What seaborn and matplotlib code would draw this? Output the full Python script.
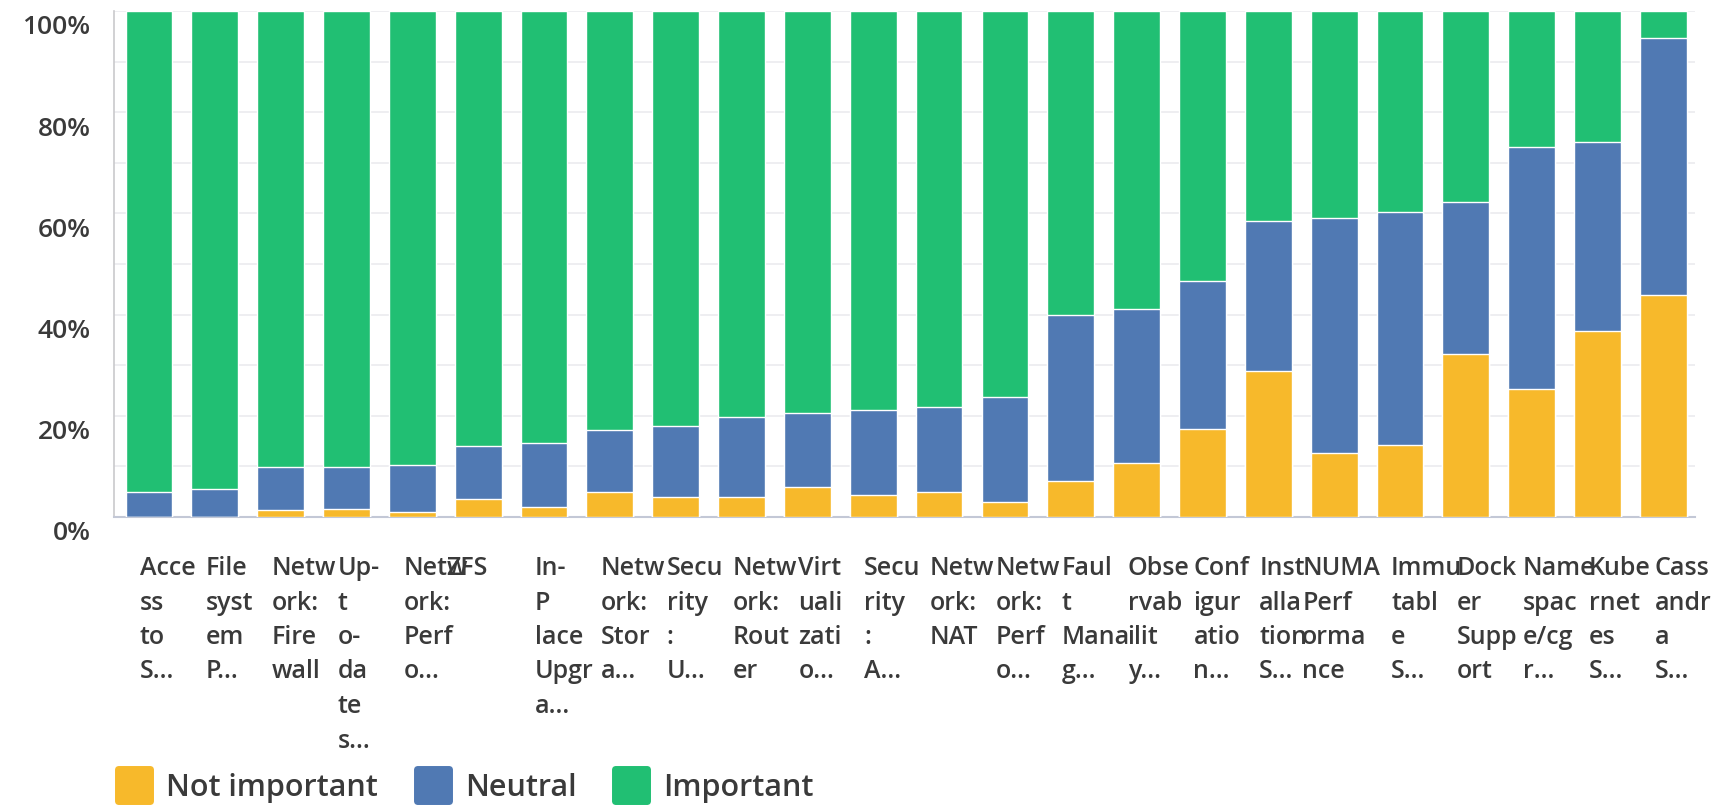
import numpy as np
import pandas as pd
import matplotlib
matplotlib.use('Agg')
import matplotlib.pyplot as plt
import matplotlib.transforms as mtransforms
from matplotlib.lines import Line2D
from matplotlib.markers import MarkerStyle
import seaborn as sns

# ---------- data (percent of respondents) ----------
labels = [
    "Acce\nss\nto\nS...", "File\nsyst\nem\nP...", "Netw\nork:\nFire\nwall",
    "Up-\nt\no-\nda\nte\ns...", "Netw\nork:\nPerf\no...", "ZFS",
    "In-\nP\nlace\nUpgr\na...", "Netw\nork:\nStor\na...", "Secu\nrity\n:\nU...",
    "Netw\nork:\nRout\ner", "Virt\nuali\nzati\no...", "Secu\nrity\n:\nA...",
    "Netw\nork:\nNAT", "Netw\nork:\nPerf\no...", "Faul\nt\nMana\ng...",
    "Obse\nrvab\nilit\ny...", "Conf\nigur\natio\nn...", "Inst\nalla\ntion\nS...",
    "NUMA\nPerf\norma\nnce", "Immu\ntabl\ne\nS...", "Dock\ner\nSupp\nort",
    "Name\nspac\ne/cg\nr...", "Kube\nrnet\nes\nS...", "Cass\nandr\na\nS...",
]
not_important = [0.0, 0.0, 1.4, 1.5, 0.9, 3.5, 2.0, 4.9, 4.0, 4.0, 6.0, 4.4,
                 5.0, 3.0, 7.1, 10.7, 17.3, 28.8, 12.7, 14.2, 32.3, 25.2, 36.8, 43.8]
neutral = [4.9, 5.6, 8.5, 8.4, 9.3, 10.5, 12.6, 12.2, 13.9, 15.7, 14.5, 16.8,
           16.7, 20.8, 32.8, 30.5, 29.3, 29.7, 46.4, 46.0, 29.9, 47.9, 37.3, 50.8]
important = [95.1, 94.4, 90.1, 90.1, 89.8, 86.0, 85.4, 82.9, 82.1, 80.3, 79.5, 78.8,
             78.3, 76.2, 60.1, 58.8, 53.4, 41.5, 40.9, 39.8, 37.8, 26.9, 25.9, 5.4]

series = ["Not important", "Neutral", "Important"]
colors = {"Not important": "#F7B92B", "Neutral": "#5079B3", "Important": "#21BF73"}

# label nudges (px) for the few labels that sit further left
nudge = {5: -23, 18: -23}

# ---------- build stacked tops ----------
df = pd.DataFrame({
    "pos": np.arange(len(labels)),
    "Not important": not_important,
    "Neutral": neutral,
    "Important": important,
})
stack = df[series].cumsum(axis=1)
stack = stack.div(stack["Important"], axis=0) * 100
stack["pos"] = df["pos"]

# ---------- figure ----------
sns.set_theme(style="white")
plt.rcParams['font.family'] = ['Open Sans', 'DejaVu Sans']
TXT = "#3a3a3a"

fig = plt.figure(figsize=(17.24, 8.07), dpi=100)
W, H = 1724, 807
ax = fig.add_axes([114 / W, (H - 517) / H, (1695 - 114) / W, (517 - 11) / H])

# draw from tallest (total) down so the lower segments sit on top
for name in reversed(series):
    sns.barplot(data=stack, x="pos", y=name, color=colors[name],
                width=0.71, saturation=1, ax=ax, zorder=3)

ax.set_xlim(-0.53, len(labels) - 1 + 0.48)
ax.set_ylim(0, 100)
ax.set_xlabel("")
ax.set_ylabel("")

# grid and spines
ax.set_yticks(np.arange(0, 101, 20))
ax.set_yticks(np.arange(0, 101, 10), minor=True)
ax.yaxis.grid(True, which="both", color="#ebebef", linewidth=1.2, zorder=0)
ax.set_axisbelow(True)
for s in ["top", "right"]:
    ax.spines[s].set_visible(False)
ax.spines["left"].set_color("#c9c9cc")
ax.spines["left"].set_linewidth(1.2)
ax.spines["bottom"].set_color("#c3c8d6")
ax.spines["bottom"].set_linewidth(1.5)

ax.set_yticklabels([f"{v}%" for v in range(0, 101, 20)],
                   fontsize=19, color=TXT, fontweight="semibold")
ax.tick_params(axis="y", which="both", length=0, pad=17)
for t in ax.get_yticklabels():
    t.set_transform(t.get_transform() +
                    mtransforms.ScaledTranslation(0, -14 / 100, fig.dpi_scale_trans))

# category labels, wrapped and left aligned as in the source
ax.set_xticks(range(len(labels)))
ax.set_xticklabels([])
ax.tick_params(axis="x", length=0)
xtrans = ax.get_xaxis_transform()
for i, lab in enumerate(labels):
    dx = (-9 + nudge.get(i, 0)) / 100
    tr = xtrans + mtransforms.ScaledTranslation(dx, -39 / 100, fig.dpi_scale_trans)
    ax.text(i, 0, lab, transform=tr, ha="left", va="top", fontsize=18,
            fontweight="semibold", color=TXT, linespacing=1.5, clip_on=False)

# legend with rounded squares
handles = [Line2D([], [], linestyle="none",
                  marker=MarkerStyle("s", joinstyle="round"), markersize=23,
                  markerfacecolor=colors[n], markeredgecolor=colors[n],
                  markeredgewidth=5) for n in series]
fig.legend(handles, series, loc="center left", bbox_to_anchor=(88 / W, 19 / H),
           ncol=3, frameon=False, handlelength=1.2,
           handletextpad=0.45, columnspacing=1.2, labelcolor=TXT,
           prop={"family": ["Open Sans", "DejaVu Sans"], "size": 22, "weight": "semibold"})

fig.savefig("out.png", dpi=100)
